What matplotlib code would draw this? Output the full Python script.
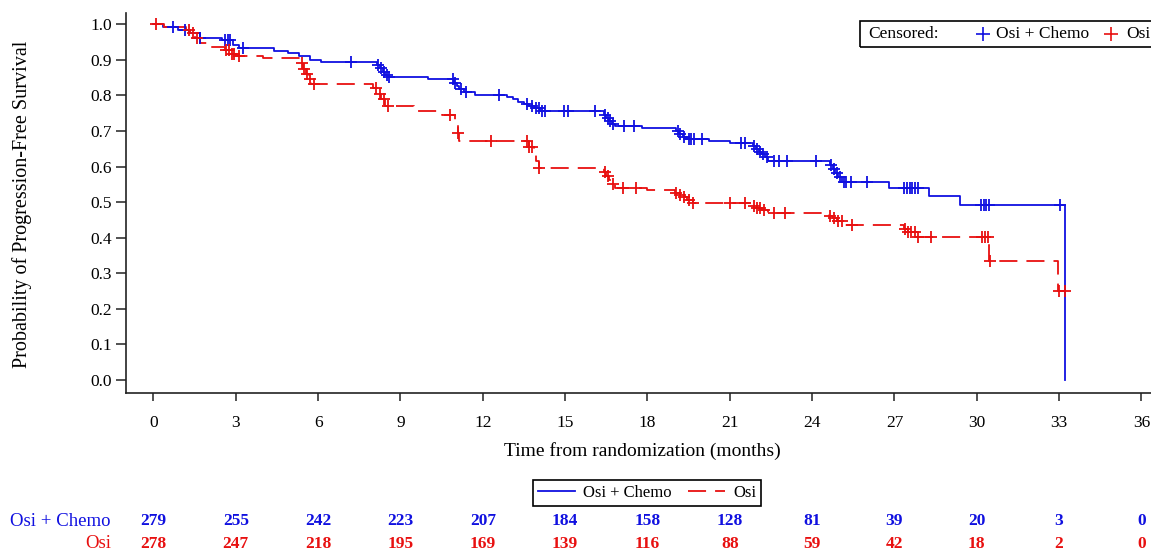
import numpy as np
import matplotlib.pyplot as plt
import matplotlib.transforms as mtransforms
from matplotlib.lines import Line2D
from matplotlib.patches import Rectangle

plt.rcParams['font.family'] = ['Liberation Serif', 'DejaVu Serif']

# Kaplan-Meier steps (time in months, survival after the step)
chemo_t = [0, 0.35, 0.9, 1.3, 1.7, 2.5, 2.9, 3.1, 4.4, 4.9, 5.3, 5.7, 6.1,
           8.15, 8.25, 8.35, 8.45, 8.55, 10.0, 10.95, 11.05, 11.15, 11.3, 11.7,
           12.9, 13.1, 13.3, 13.5, 13.7, 13.9, 14.1, 16.4, 16.5, 16.6, 16.7, 16.8,
           17.8, 19.05, 19.15, 19.3, 19.45, 20.25, 21.0, 21.85, 21.95, 22.05,
           22.15, 22.3, 22.4, 24.65, 24.75, 24.85, 24.95, 25.1, 26.8, 28.25,
           29.4, 33.2]
chemo_s = [1.0, 0.993, 0.985, 0.975, 0.962, 0.955, 0.942, 0.933, 0.926, 0.92,
           0.91, 0.90, 0.893, 0.885, 0.876, 0.867, 0.858, 0.852, 0.845, 0.835,
           0.826, 0.818, 0.81, 0.80, 0.795, 0.789, 0.783, 0.777, 0.771, 0.764,
           0.755, 0.745, 0.737, 0.729, 0.72, 0.713, 0.709, 0.70, 0.692, 0.684,
           0.677, 0.672, 0.667, 0.659, 0.65, 0.642, 0.634, 0.626, 0.616, 0.605,
           0.594, 0.582, 0.57, 0.557, 0.541, 0.516, 0.492, 0.0]
chemo_cens = [0.7, 1.15, 1.7, 2.6, 2.7, 2.8, 3.27, 7.2, 8.2, 8.3, 8.4, 8.5,
              8.6, 10.9, 11.0, 11.2, 11.4, 12.6, 13.6, 13.8, 13.95, 14.05, 14.15,
              14.25, 14.96, 15.1, 16.1, 16.45, 16.55, 16.65, 16.75, 17.15, 17.5,
              19.1, 19.2, 19.35, 19.5, 19.6, 19.7, 20.0, 21.4, 21.55, 21.9, 22.0,
              22.1, 22.2, 22.35, 22.6, 22.8, 23.1, 24.15, 24.7, 24.8, 24.9, 25.0,
              25.15, 25.25, 25.4, 26.0, 27.35, 27.45, 27.55, 27.65, 27.75, 27.85,
              30.15, 30.25, 30.35, 30.45, 33.05]

osi_t = [0, 0.4, 1.2, 1.35, 1.5, 1.7, 2.0, 2.6, 2.8, 3.0, 4.0, 5.35, 5.45,
         5.55, 5.65, 5.75, 8.0, 8.15, 8.3, 8.45, 9.5, 10.5, 11.0, 11.1, 11.15,
         13.7, 13.85, 13.95, 14.05, 16.4, 16.5, 16.6, 16.7, 16.8, 18.0, 19.0,
         19.15, 19.3, 19.45, 19.65, 21.9, 22.0, 22.15, 22.4, 24.6, 24.75, 24.9,
         25.15, 27.35, 27.5, 27.8, 30.45, 32.95]
osi_s = [1.0, 0.993, 0.985, 0.975, 0.963, 0.948, 0.937, 0.928, 0.918, 0.912,
         0.905, 0.89, 0.875, 0.86, 0.846, 0.833, 0.82, 0.805, 0.79, 0.77, 0.755,
         0.746, 0.72, 0.695, 0.672, 0.655, 0.635, 0.615, 0.597, 0.585, 0.573,
         0.562, 0.55, 0.541, 0.535, 0.527, 0.52, 0.513, 0.506, 0.498, 0.49,
         0.483, 0.477, 0.47, 0.462, 0.454, 0.446, 0.436, 0.425, 0.415, 0.403,
         0.333, 0.25]
osi_cens = [0.1, 1.3, 1.45, 1.6, 2.65, 2.75, 2.85, 2.95, 3.1, 5.4, 5.5, 5.6,
            5.7, 5.85, 8.1, 8.25, 8.4, 8.55, 10.8, 11.1, 12.3, 13.6, 13.7, 13.8,
            14.05, 16.45, 16.55, 16.75, 17.1, 17.6, 19.05, 19.2, 19.35, 19.5,
            19.65, 21.0, 21.55, 21.9, 22.0, 22.1, 22.25, 22.6, 23.0, 24.65, 24.8,
            24.95, 25.1, 25.45, 27.4, 27.5, 27.6, 27.75, 27.85, 28.35, 30.2,
            30.3, 30.4, 30.5, 33.0, 33.2]

risk_times = list(range(0, 37, 3))
chemo_risk = [279, 255, 242, 223, 207, 184, 158, 128, 81, 39, 20, 3, 0]
osi_risk = [278, 247, 218, 195, 169, 139, 116, 88, 59, 42, 18, 2, 0]

BLUE = '#1010e0'
RED = '#e81010'
W, H = 1151, 552


def step_value(t, s, c):
    idx = np.searchsorted(t, c, side='right') - 1
    return np.asarray(s)[idx]


fig = plt.figure(figsize=(W / 100, H / 100), dpi=100)
ax = fig.add_axes([126 / W, 1 - 393 / H, 1.006 - 126 / W, 380 / H])

# curves (extend last Osi level to the last censored time)
ax.step(chemo_t, chemo_s, where='post', color=BLUE, lw=1.3)
ot = osi_t + [max(osi_cens)]
os_ = osi_s + [osi_s[-1]]
ax.step(ot, os_, where='post', color=RED, lw=1.3, dashes=(10, 5))

ax.plot(chemo_cens, step_value(chemo_t, chemo_s, chemo_cens), '+',
        color=BLUE, ms=9, mew=1.3)
ax.plot(osi_cens, step_value(osi_t, osi_s, osi_cens), '+',
        color=RED, ms=9, mew=1.3)

ax.set_xlim(-1.0, 36.6)
ax.set_ylim(-0.037, 1.032)
ax.set_xticks(risk_times)
yt = np.round(np.arange(0, 1.01, 0.1), 1)
ax.set_yticks(yt)
ax.set_yticklabels([f'{v:.1f}' for v in yt])
ax.tick_params(axis='both', labelsize=12.5, width=1.1, color='#222222')
ax.tick_params(axis='x', length=6, pad=10)
ax.tick_params(axis='y', length=7, pad=3)
for side in ['top', 'right']:
    ax.spines[side].set_visible(False)
for side in ['left', 'bottom']:
    ax.spines[side].set_linewidth(1.2)
    ax.spines[side].set_color('#222222')

ax.set_xlabel('Time from randomization (months)', fontsize=14, labelpad=8)
fig.text(22 / W, 1 - 204 / H, 'Probability of Progression-Free Survival',
         rotation=90, ha='center', va='center', fontsize=14.5)

# censored legend (top right, runs past the figure edge)
fig.patches.append(Rectangle((860 / W, 1 - 47 / H), 320 / W, 26 / H,
                             transform=fig.transFigure, fill=False,
                             edgecolor='black', lw=1.2))
ly = 1 - 34 / H
fig.text(868 / W, ly, 'Censored:', ha='left', va='center', fontsize=12.5)
fig.text(996 / W, ly, 'Osi + Chemo', ha='left', va='center', fontsize=12.5)
fig.text(1126 / W, ly, 'Osi', ha='left', va='center', fontsize=12.5)
fig.add_artist(Line2D([983 / W], [ly], transform=fig.transFigure, marker='+',
                      linestyle='none', color=BLUE, ms=10, mew=1.2))
fig.add_artist(Line2D([1111 / W], [ly], transform=fig.transFigure, marker='+',
                      linestyle='none', color=RED, ms=10, mew=1.2))

# line legend (bottom)
line_handles = [Line2D([], [], color=BLUE, lw=1.3),
                Line2D([], [], color=RED, lw=1.3, dashes=(10, 5))]
leg2 = fig.legend(line_handles, ['Osi + Chemo', 'Osi'], ncol=2, loc='center',
                  bbox_to_anchor=(647 / W, 1 - 493 / H), fontsize=12,
                  fancybox=False, edgecolor='black', framealpha=1,
                  handlelength=2.2, handletextpad=0.5, columnspacing=1.0,
                  borderpad=0.3)
leg2.get_frame().set_linewidth(1.2)

# number at risk
trans = mtransforms.blended_transform_factory(ax.transData, fig.transFigure)
row_y = [1 - 521 / H, 1 - 544 / H]
for y, name, vals, col in [(row_y[0], 'Osi + Chemo', chemo_risk, BLUE),
                           (row_y[1], 'Osi', osi_risk, RED)]:
    fig.text(111 / W, y, name, ha='right', va='center', color=col, fontsize=13.5)
    for t, v in zip(risk_times, vals):
        ax.text(t, y, str(v), transform=trans, ha='center', va='center',
                color=col, fontsize=12.5, fontweight='bold')

fig.savefig('out.png', dpi=100)
